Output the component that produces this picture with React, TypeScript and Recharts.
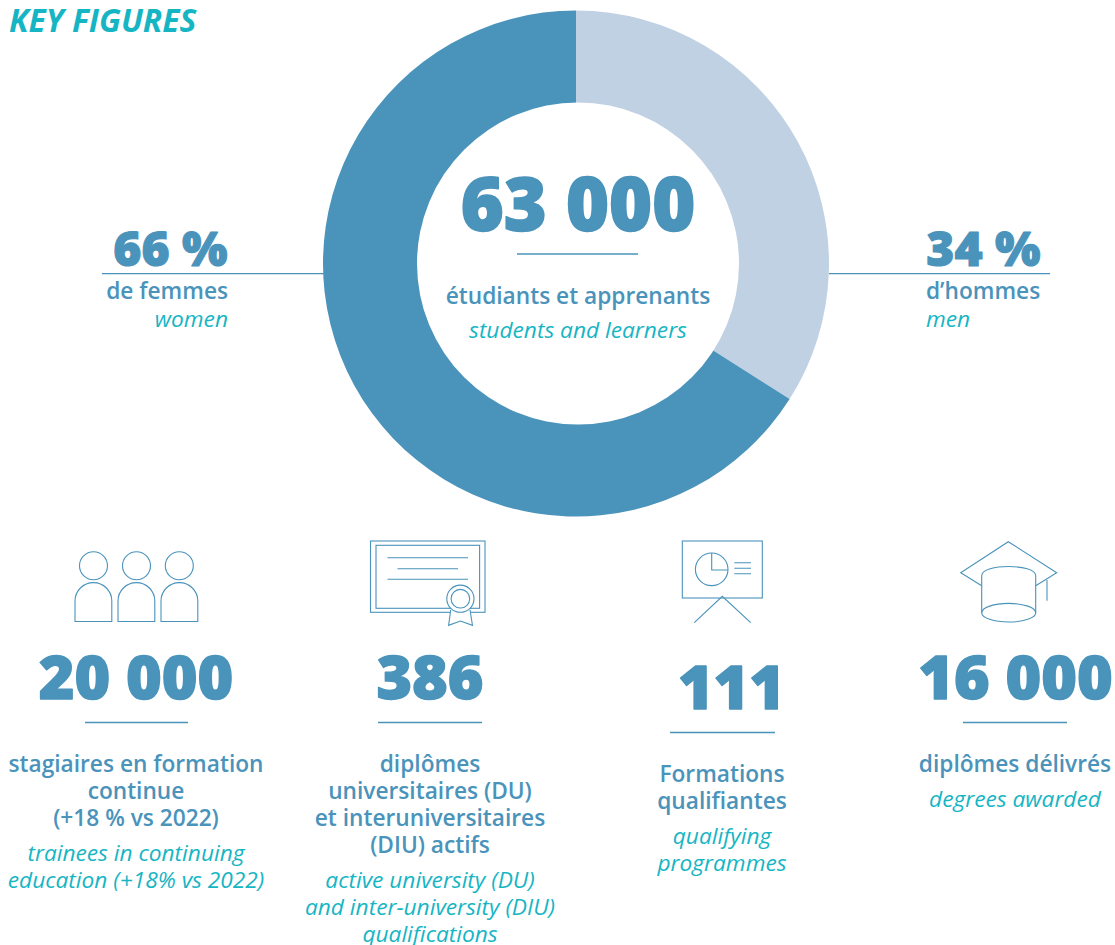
import { PieChart, Pie, Cell } from "recharts"

const genders = ["men", "women"]
const shares = [34, 66]
const sliceColors = ["#c0d1e4", "#4a93bb"]

const totalValue = "63 000"
const totalFr = "étudiants et apprenants"
const totalEn = "students and learners"

const figures = ["20 000", "386", "111", "16 000"]
const labelsFr = [
  ["stagiaires en formation", "continue", "(+18 % vs 2022)"],
  ["diplômes", "universitaires (DU)", "et interuniversitaires", "(DIU) actifs"],
  ["Formations", "qualifiantes"],
  ["diplômes délivrés"],
]
const labelsEn = [
  ["trainees in continuing", "education (+18% vs 2022)"],
  ["active university (DU)", "and inter-university (DIU)", "qualifications"],
  ["qualifying", "programmes"],
  ["degrees awarded"],
]

const BLUE = "#4a93bb"
const TEAL = "#16b5c4"
const FONT = "'Open Sans', sans-serif"

const chartData = genders.map((name, i) => ({ name, value: shares[i] }))

function Label({ x, y, size, color = BLUE, weight = 600, italic = false, anchor = "middle", heavy = 0, children }: any) {
  return (
    <text
      x={x}
      y={y}
      fontSize={size}
      fill={color}
      fontWeight={weight}
      fontStyle={italic ? "italic" : "normal"}
      textAnchor={anchor}
      fontFamily={FONT}
      stroke={heavy ? color : "none"}
      strokeWidth={heavy}
      strokeLinejoin="round"
    >
      {children}
    </text>
  )
}

function Rule({ x1, x2, y }: { x1: number; x2: number; y: number }) {
  return <line x1={x1} x2={x2} y1={y} y2={y} stroke={BLUE} strokeWidth={1.3} />
}

function Icons() {
  return (
    <g fill="none" stroke={BLUE} strokeWidth={1.1}>
      {/* people */}
      <circle cx={93.5} cy={565.7} r={14} />
      <circle cx={136.5} cy={565.7} r={14} />
      <circle cx={179.3} cy={565.7} r={14} />
      <path d="M75 621.5V601a18.4 18.4 0 0 1 36.8 0V621.5Z" />
      <path d="M118 621.5V601a18.4 18.4 0 0 1 36.8 0V621.5Z" />
      <path d="M161 621.5V601a18.4 18.4 0 0 1 36.8 0V621.5Z" />
      {/* certificate */}
      <rect x={370.5} y={541} width={114.5} height={71.3} />
      <rect x={376} y={545.3} width={103.6} height={63} />
      <path d="M387.5 557.7H468M397.5 568.7H458M387.5 579.3H468" />
      <path d="M450.7 610L448.6 625.3L460.4 621L472.5 625.3L470 610" fill="#fff" />
      <circle cx={460.4} cy={598.7} r={13.6} fill="#fff" />
      <circle cx={460.4} cy={598.7} r={9.3} />
      {/* presentation board */}
      <rect x={682.3} y={541} width={80} height={57} />
      <circle cx={711.7} cy={569.3} r={16.3} />
      <path d="M711.7 553V570H728" />
      <path d="M734.3 562.7H751M734.3 568.3H751M734.3 573.7H751" />
      <path d="M694.3 622.7L722.3 596.3L750.7 622.7" />
      {/* graduation cap */}
      <path d="M981.7 585.7L960.7 572.7L1008.3 541.7L1056.7 572.7L1035.7 585.7" />
      <path d="M981.7 612.7V575.7C981.7 563.5 1035.7 563.5 1035.7 575.7V612.7" />
      <ellipse cx={1008.7} cy={612.7} rx={27} ry={9.3} />
      <path d="M1047 580V600.7" />
    </g>
  )
}

const figureCols = [136, 430, 731.5, 1015.5]
const figureBase = [699, 699, 709, 699]
const ruleSpans = [[85, 188], [378, 482], [670, 775], [963, 1067]]
const textCols = [136, 430, 722, 1015]

export default function App() {
  return (
    <div style={{ position: "absolute", left: 0, top: 0, width: 1115, height: 945, background: "#fff" }}>
      <div style={{ position: "absolute", left: 0, top: 0 }}>
        <PieChart width={1115} height={945} margin={{ top: 0, right: 0, bottom: 0, left: 0 }}>
          <Pie
            data={chartData}
            dataKey="value"
            nameKey="name"
            cx={576}
            cy={263.5}
            innerRadius={150}
            outerRadius={253}
            startAngle={90}
            endAngle={-270}
            stroke="none"
            isAnimationActive={false}
          >
            {chartData.map((entry, i) => (
              <Cell key={entry.name} fill={sliceColors[i]} />
            ))}
          </Pie>
        </PieChart>
      </div>
      <svg width={1115} height={945} style={{ position: "absolute", left: 0, top: 0 }}>
        {/* the hole sits a little right of the ring's centre */}
        <circle cx={578} cy={263.5} r={161} fill="#fff" />

        <Label x={9} y={31.5} size={31.8} color={TEAL} weight={700} italic anchor="start">KEY FIGURES</Label>

        <Label x={578} y={230.5} size={73.5} weight={800} heavy={1.6}>{totalValue}</Label>
        <Rule x1={517} x2={638} y={254} />
        <Label x={578} y={304} size={22.7}>{totalFr}</Label>
        <Label x={578} y={338} size={22.7} color={TEAL} weight={400} italic>{totalEn}</Label>

        <Label x={227.5} y={265.5} size={48} weight={800} heavy={1.1} anchor="end">{shares[1]} %</Label>
        <Rule x1={102} x2={324} y={273.7} />
        <Label x={228} y={299} size={22.7} anchor="end">de femmes</Label>
        <Label x={228} y={327} size={22.7} color={TEAL} weight={400} italic anchor="end">women</Label>

        <Label x={1040.5} y={265.5} size={48} weight={800} heavy={1.1} anchor="end">{shares[0]} %</Label>
        <Rule x1={829} x2={1050} y={273.7} />
        <Label x={926} y={299} size={22.7} anchor="start">d’hommes</Label>
        <Label x={926} y={327} size={22.7} color={TEAL} weight={400} italic anchor="start">men</Label>

        <Icons />

        {figures.map((value, i) => {
          const frStart = i === 2 ? 782 : 772
          const enStart = frStart + (labelsFr[i].length - 1) * 27 + 35
          return (
            <g key={value}>
              <Label x={figureCols[i]} y={figureBase[i]} size={61} weight={800} heavy={1.4}>{value}</Label>
              <Rule x1={ruleSpans[i][0]} x2={ruleSpans[i][1]} y={figureBase[i] + 23.5} />
              {labelsFr[i].map((line, j) => (
                <Label key={line} x={textCols[i]} y={frStart + j * 27} size={22.7}>{line}</Label>
              ))}
              {labelsEn[i].map((line, j) => (
                <Label key={line} x={textCols[i]} y={enStart + j * 27} size={22.7} color={TEAL} weight={400} italic>{line}</Label>
              ))}
            </g>
          )
        })}
      </svg>
    </div>
  )
}
